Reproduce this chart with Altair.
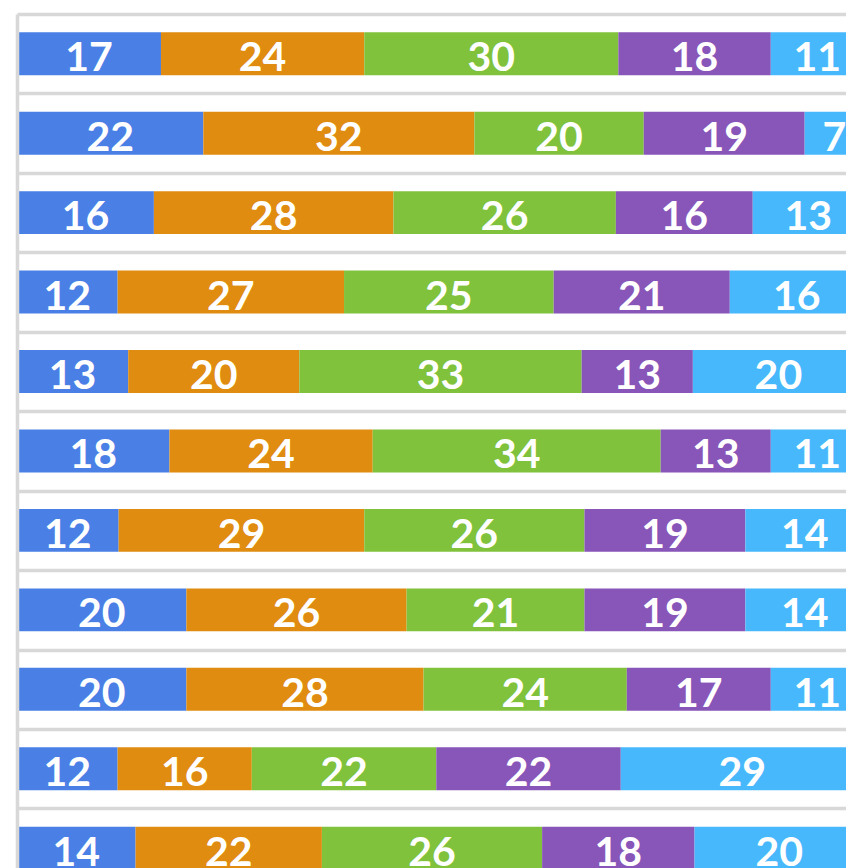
import altair as alt
import pandas as pd

rows = list(range(11))
seg_names = ["A", "B", "C", "D", "E"]
colors = ["#4A80E6", "#E08C10", "#80C23C", "#8855B8", "#48B8FC"]
values = [
    [17, 24, 30, 18, 11],
    [22, 32, 20, 19, 7],
    [16, 28, 26, 16, 13],
    [12, 27, 25, 21, 16],
    [13, 20, 33, 13, 20],
    [18, 24, 34, 13, 11],
    [12, 29, 26, 19, 14],
    [20, 26, 21, 19, 14],
    [20, 28, 24, 17, 11],
    [12, 16, 22, 22, 29],
    [14, 22, 26, 18, 20],
]

records = []
for r, vals in zip(rows, values):
    for i, (s, v) in enumerate(zip(seg_names, vals)):
        records.append({"row": r, "seg": s, "order": i, "value": v})
df = pd.DataFrame(records)

xscale = alt.Scale(domain=[0, 0.9788], nice=False, zero=False)
yscale = alt.Scale(domain=[-0.5, 10.249], reverse=True, nice=False, zero=False)

base = alt.Chart(df).transform_stack(
    stack="value",
    groupby=["row"],
    as_=["x0", "x1"],
    offset="normalize",
    sort=[alt.SortField("order", order="ascending")],
).transform_calculate(
    y0="datum.row - 0.27",
    y1="datum.row + 0.27",
    xm="(datum.x0 + datum.x1) / 2",
)

bars = base.mark_bar(clip=True).encode(
    x=alt.X("x0:Q", scale=xscale, axis=None),
    x2="x1:Q",
    y=alt.Y(
        "y0:Q",
        scale=yscale,
        axis=alt.Axis(
            values=[k - 0.5 for k in range(11)],
            labels=False,
            ticks=False,
            title=None,
            grid=True,
            gridColor="#d8d8d8",
            gridWidth=3.5,
            domain=True,
            domainColor="#d8d8d8",
            domainWidth=3.5,
            zindex=1,
        ),
    ),
    y2="y1:Q",
    color=alt.Color("seg:N", scale=alt.Scale(domain=seg_names, range=colors), legend=None),
)

labels = base.mark_text(
    clip=True,
    font="Lato",
    fontSize=41,
    fontWeight="bold",
    color="white",
    align="center",
    baseline="alphabetic",
    dy=17.5,
).encode(
    x=alt.X("xm:Q", scale=xscale),
    y=alt.Y("row:Q", scale=yscale),
    text=alt.Text("value:Q"),
)

chart = (
    alt.layer(bars, labels)
    .properties(
        width=829,
        height=854,
        autosize=alt.AutoSizeParams(type="none"),
        padding={"left": 9, "top": 6, "right": 0, "bottom": 0},
    )
    .configure_view(stroke=None)
)

chart.save("out.html", embed_options={"renderer": "svg", "actions": False})
